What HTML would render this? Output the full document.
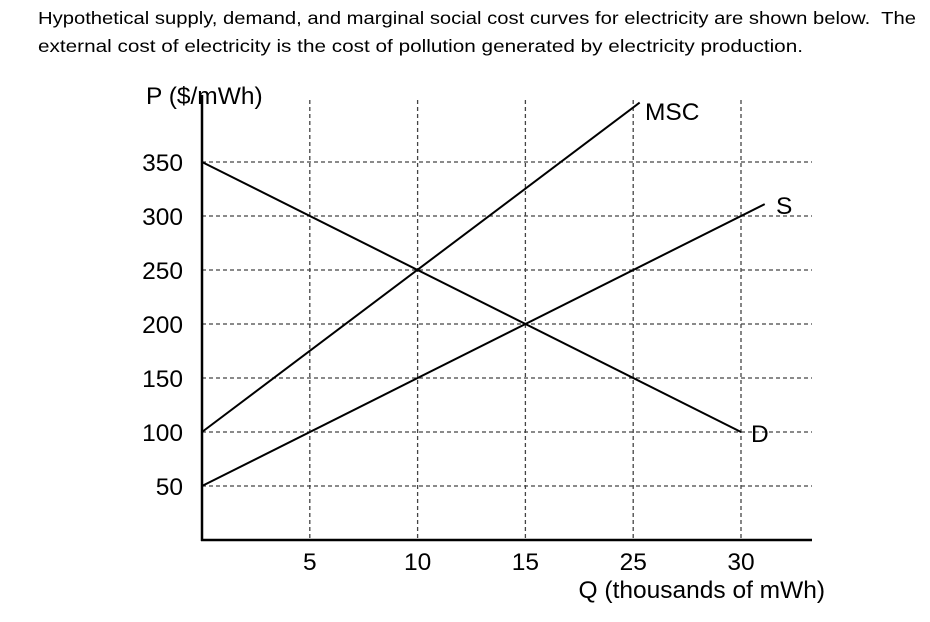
<!DOCTYPE html>
<html><head><meta charset="utf-8"><style>
body{margin:0;background:#fff;width:930px;height:622px;overflow:hidden}
</style></head><body>
<svg id="c" width="930" height="622" style="position:absolute;left:0;top:0">
<text x="38" y="24" textLength="878" lengthAdjust="spacingAndGlyphs" style='font-family:"Liberation Sans",sans-serif;font-size:17.5px'>Hypothetical supply, demand, and marginal social cost curves for electricity are shown below.&#160; The</text>
<text x="38" y="52" textLength="765" lengthAdjust="spacingAndGlyphs" style='font-family:"Liberation Sans",sans-serif;font-size:17.5px'>external cost of electricity is the cost of pollution generated by electricity production.</text>
</svg>
<script>
const yTicks=[350,300,250,200,150,100,50];
const xGridQ=[5,10,15,20,25];
const xTickLabels=["5","10","15","25","30"];
const dQ=[0,25]; const dP=[350,100];
const mscQ=[0,20.3]; const mscP=[100,405];
const sQ=[0,26.1]; const sP=[50,311];
const NS="http://www.w3.org/2000/svg";
const svg=document.getElementById('c');
const X=q=>202+q*21.56, Y=p=>540-p*1.08;
function mk(t,a,txt){const e=document.createElementNS(NS,t);for(const k in a)e.setAttribute(k,a[k]);if(txt!==undefined)e.textContent=txt;svg.appendChild(e);return e;}
const F='font-family:"Liberation Sans",sans-serif;font-size:24.5px';
yTicks.forEach(v=>{
 let g=mk('line',{x1:202,x2:812,y1:Y(v),y2:Y(v),stroke:'#444','stroke-width':1.3,'stroke-dasharray':'4,3'});
 
 
 let t=mk('text',{x:183,y:Y(v)+9,'text-anchor':'end',style:F},String(v));
 
 
});
xGridQ.forEach((q,i)=>{
 let g=mk('line',{x1:X(q),x2:X(q),y1:100,y2:540,stroke:'#444','stroke-width':1.3,'stroke-dasharray':'4,3'});
 
 
 let t=mk('text',{x:X(q),y:570,'text-anchor':'middle',style:F},xTickLabels[i]);
 
 
});
let ax=mk('line',{x1:202,x2:202,y1:95,y2:541,stroke:'#000','stroke-width':2.5});


let axx=mk('line',{x1:201,x2:812,y1:540,y2:540,stroke:'#000','stroke-width':2.5});


[[dQ,dP,'demand-line'],[mscQ,mscP,'msc-line'],[sQ,sP,'supply-line']].forEach(([q,p,n])=>{
 let l=mk('line',{x1:X(q[0]),y1:Y(p[0]),x2:X(q[1]),y2:Y(p[1]),stroke:'#000','stroke-width':2});
 
 
});
let a=mk('text',{x:645,y:120,style:F},'MSC');
let b=mk('text',{x:776,y:214,style:F},'S');
let d=mk('text',{x:751,y:442,style:F},'D');
let yt=mk('text',{x:146,y:104,style:F},'P ($/mWh)');
let xt=mk('text',{x:825,y:598,'text-anchor':'end',style:F},'Q (thousands of mWh)');
</script>
</body></html>
